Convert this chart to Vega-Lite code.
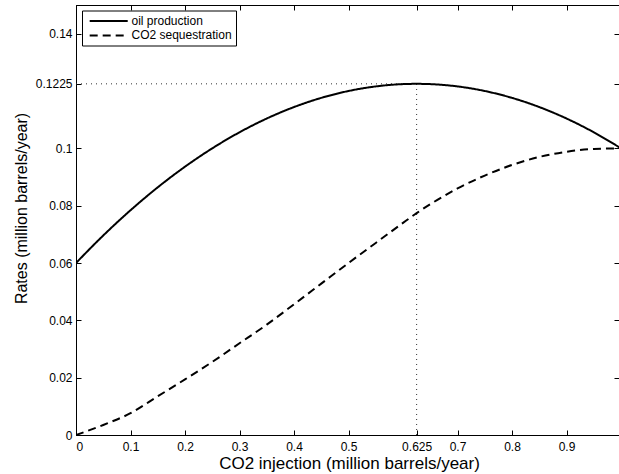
{
  "$schema": "https://vega.github.io/schema/vega-lite/v6.json",
  "width": 543,
  "height": 430,
  "autosize": {"type": "none"},
  "padding": {"left": 76, "top": 5, "right": 0, "bottom": 39},
  "background": "white",
  "config": {
    "font": "Liberation Sans",
    "view": {"stroke": "black", "strokeWidth": 1},
    "axis": {
      "grid": false,
      "domainColor": "black",
      "domainWidth": 1,
      "tickColor": "black",
      "tickWidth": 1,
      "tickSize": -5,
      "labelColor": "black",
      "titleColor": "black",
      "labelFontSize": 12,
      "titleFontSize": 16,
      "titleFontWeight": "normal"
    },
    "legend": {
      "orient": "none",
      "legendX": 6,
      "legendY": 5.5,
      "padding": 3.5,
      "rowPadding": 1.4,
      "strokeColor": "black",
      "fillColor": "white",
      "cornerRadius": 0,
      "symbolType": "M-0.47,0L5.87,0",
      "symbolSize": 144,
      "symbolStrokeWidth": 2,
      "symbolStrokeColor": "black",
      "labelFontSize": 12,
      "labelColor": "black",
      "labelOffset": 32,
      "titlePadding": 0
    }
  },
  "datasets": {
    "curves": [
      {"x": 0, "y": 0.06, "series": "oil production"},
      {"x": 0.05, "y": 0.0696, "series": "oil production"},
      {"x": 0.1, "y": 0.0784, "series": "oil production"},
      {"x": 0.15, "y": 0.0864, "series": "oil production"},
      {"x": 0.2, "y": 0.0936, "series": "oil production"},
      {"x": 0.25, "y": 0.1, "series": "oil production"},
      {"x": 0.3, "y": 0.1056, "series": "oil production"},
      {"x": 0.35, "y": 0.1104, "series": "oil production"},
      {"x": 0.4, "y": 0.1144, "series": "oil production"},
      {"x": 0.45, "y": 0.1176, "series": "oil production"},
      {"x": 0.5, "y": 0.12, "series": "oil production"},
      {"x": 0.55, "y": 0.1216, "series": "oil production"},
      {"x": 0.6, "y": 0.1224, "series": "oil production"},
      {"x": 0.625, "y": 0.1225, "series": "oil production"},
      {"x": 0.65, "y": 0.1224, "series": "oil production"},
      {"x": 0.7, "y": 0.1216, "series": "oil production"},
      {"x": 0.75, "y": 0.12, "series": "oil production"},
      {"x": 0.8, "y": 0.1176, "series": "oil production"},
      {"x": 0.85, "y": 0.1144, "series": "oil production"},
      {"x": 0.9, "y": 0.1104, "series": "oil production"},
      {"x": 0.95, "y": 0.1056, "series": "oil production"},
      {"x": 1.0, "y": 0.1, "series": "oil production"},
      {"x": 0, "y": 0, "series": "CO2 sequestration"},
      {"x": 0.05, "y": 0.0035, "series": "CO2 sequestration"},
      {"x": 0.1, "y": 0.0076, "series": "CO2 sequestration"},
      {"x": 0.15, "y": 0.0135, "series": "CO2 sequestration"},
      {"x": 0.2, "y": 0.0194, "series": "CO2 sequestration"},
      {"x": 0.25, "y": 0.0255, "series": "CO2 sequestration"},
      {"x": 0.3, "y": 0.032, "series": "CO2 sequestration"},
      {"x": 0.35, "y": 0.0385, "series": "CO2 sequestration"},
      {"x": 0.4, "y": 0.0456, "series": "CO2 sequestration"},
      {"x": 0.45, "y": 0.0528, "series": "CO2 sequestration"},
      {"x": 0.5, "y": 0.06, "series": "CO2 sequestration"},
      {"x": 0.55, "y": 0.067, "series": "CO2 sequestration"},
      {"x": 0.6, "y": 0.074, "series": "CO2 sequestration"},
      {"x": 0.625, "y": 0.0774, "series": "CO2 sequestration"},
      {"x": 0.65, "y": 0.0805, "series": "CO2 sequestration"},
      {"x": 0.7, "y": 0.086, "series": "CO2 sequestration"},
      {"x": 0.75, "y": 0.0905, "series": "CO2 sequestration"},
      {"x": 0.8, "y": 0.0942, "series": "CO2 sequestration"},
      {"x": 0.85, "y": 0.097, "series": "CO2 sequestration"},
      {"x": 0.9, "y": 0.0988, "series": "CO2 sequestration"},
      {"x": 0.95, "y": 0.0998, "series": "CO2 sequestration"},
      {"x": 1.0, "y": 0.1, "series": "CO2 sequestration"}
    ],
    "guides": [
      {"x": 0, "x2": 0.625, "y": 0.1225, "y2": 0.1225},
      {"x": 0.625, "x2": 0.625, "y": 0, "y2": 0.1225}
    ]
  },
  "layer": [
    {
      "data": {"name": "guides"},
      "mark": {"type": "rule", "stroke": "#333333", "strokeWidth": 1, "strokeDash": [1, 4]},
      "encoding": {
        "x": {"field": "x", "type": "quantitative", "scale": {"domain": [0, 0.9963], "nice": false, "zero": false},
              "axis": {"orient": "top", "values": [0, 0.1, 0.2, 0.3, 0.4, 0.5, 0.625, 0.7, 0.8, 0.9], "labels": false, "title": null}},
        "x2": {"field": "x2"},
        "y": {"field": "y", "type": "quantitative", "scale": {"domain": [0, 0.15], "nice": false, "zero": false},
              "axis": {"orient": "right", "values": [0, 0.02, 0.04, 0.06, 0.08, 0.1, 0.1225, 0.14], "labels": false, "title": null}},
        "y2": {"field": "y2"}
      }
    },
    {
      "data": {"name": "curves"},
      "mark": {"type": "line", "strokeWidth": 2, "clip": true, "interpolate": "monotone"},
      "encoding": {
        "x": {"field": "x", "type": "quantitative", "scale": {"domain": [0, 0.9963], "nice": false, "zero": false},
              "axis": {"orient": "bottom", "values": [0, 0.1, 0.2, 0.3, 0.4, 0.5, 0.625, 0.7, 0.8, 0.9],
                       "format": ".4~g",
                       "labelPadding": 11, "title": "CO2 injection (million barrels/year)",
                       "titleFontSize": 17,
                       "titleBaseline": "alphabetic", "titleY": 33, "titleX": 273}},
        "y": {"field": "y", "type": "quantitative", "scale": {"domain": [0, 0.15], "nice": false, "zero": false},
              "axis": {"orient": "left", "values": [0, 0.02, 0.04, 0.06, 0.08, 0.1, 0.1225, 0.14],
                       "format": ".4~g",
                       "labelPadding": 9, "title": "Rates (million barrels/year)",
                       "titleBaseline": "alphabetic", "titleX": -50, "titleY": 203}},
        "color": {"field": "series", "type": "nominal",
                  "scale": {"domain": ["oil production", "CO2 sequestration"], "range": ["black", "black"]},
                  "legend": {"title": null}},
        "strokeDash": {"field": "series", "type": "nominal",
                       "scale": {"domain": ["oil production", "CO2 sequestration"], "range": [[1, 0], [8, 5]]},
                       "legend": {"title": null}}
      }
    }
  ],
  "resolve": {"axis": {"x": "independent", "y": "independent"}}
}
